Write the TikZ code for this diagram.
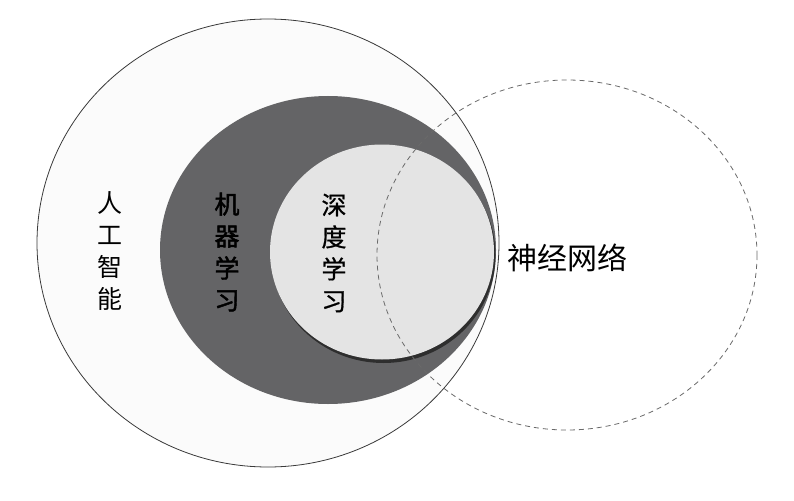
\documentclass[tikz,border=0pt]{standalone}
\usepackage{fontspec}
\newfontfamily\cjk{Noto Sans CJK SC}
\newfontfamily\cjkb[FakeBold=1.8]{Noto Sans CJK SC}
\newfontfamily\cjkm[FakeBold=0.8]{Noto Sans CJK SC}
\definecolor{aifill}{HTML}{FBFBFB}
\definecolor{ailine}{HTML}{3A3A3A}
\definecolor{mlfill}{HTML}{646466}
\definecolor{dlfill}{HTML}{E4E4E4}
\definecolor{dlshadow}{HTML}{2E2E2E}
\definecolor{nnline}{HTML}{6A6A6A}
\begin{document}
\begin{tikzpicture}[x=1pt,y=-1pt,
  vlabel/.style={align=center, inner sep=0pt, text=black}]
\path[use as bounding box, fill=white] (0,0) rectangle (794,500);
% artificial intelligence
\draw[fill=aifill, draw=ailine, line width=0.8pt] (268,243) ellipse [x radius=231, y radius=224];
% machine learning
\fill[mlfill] (328,250) ellipse [x radius=168, y radius=154];
% deep learning (with dark rim shadow)
\fill[dlshadow] (383.5,255) ellipse [x radius=112, y radius=108];
\fill[dlfill] (382,252) ellipse [x radius=112, y radius=107.5];
% neural network
\draw[nnline, line width=0.8pt, dash pattern=on 5pt off 4pt] (567,255) ellipse [x radius=190, y radius=175];
% labels
\node[vlabel, font=\fontsize{25}{32}\cjk] (ai) at (110,251) {人\\工\\智\\能};
\node[vlabel, font=\fontsize{25}{32}\cjkb] (ml) at (227,252) {机\\器\\学\\习};
\node[vlabel, font=\fontsize{25}{32}\cjkm] (dl) at (334,253) {深\\度\\学\\习};
\node[vlabel, font=\fontsize{30}{36}\cjk] (nn) at (567,258) {神经网络};
\end{tikzpicture}
\end{document}
